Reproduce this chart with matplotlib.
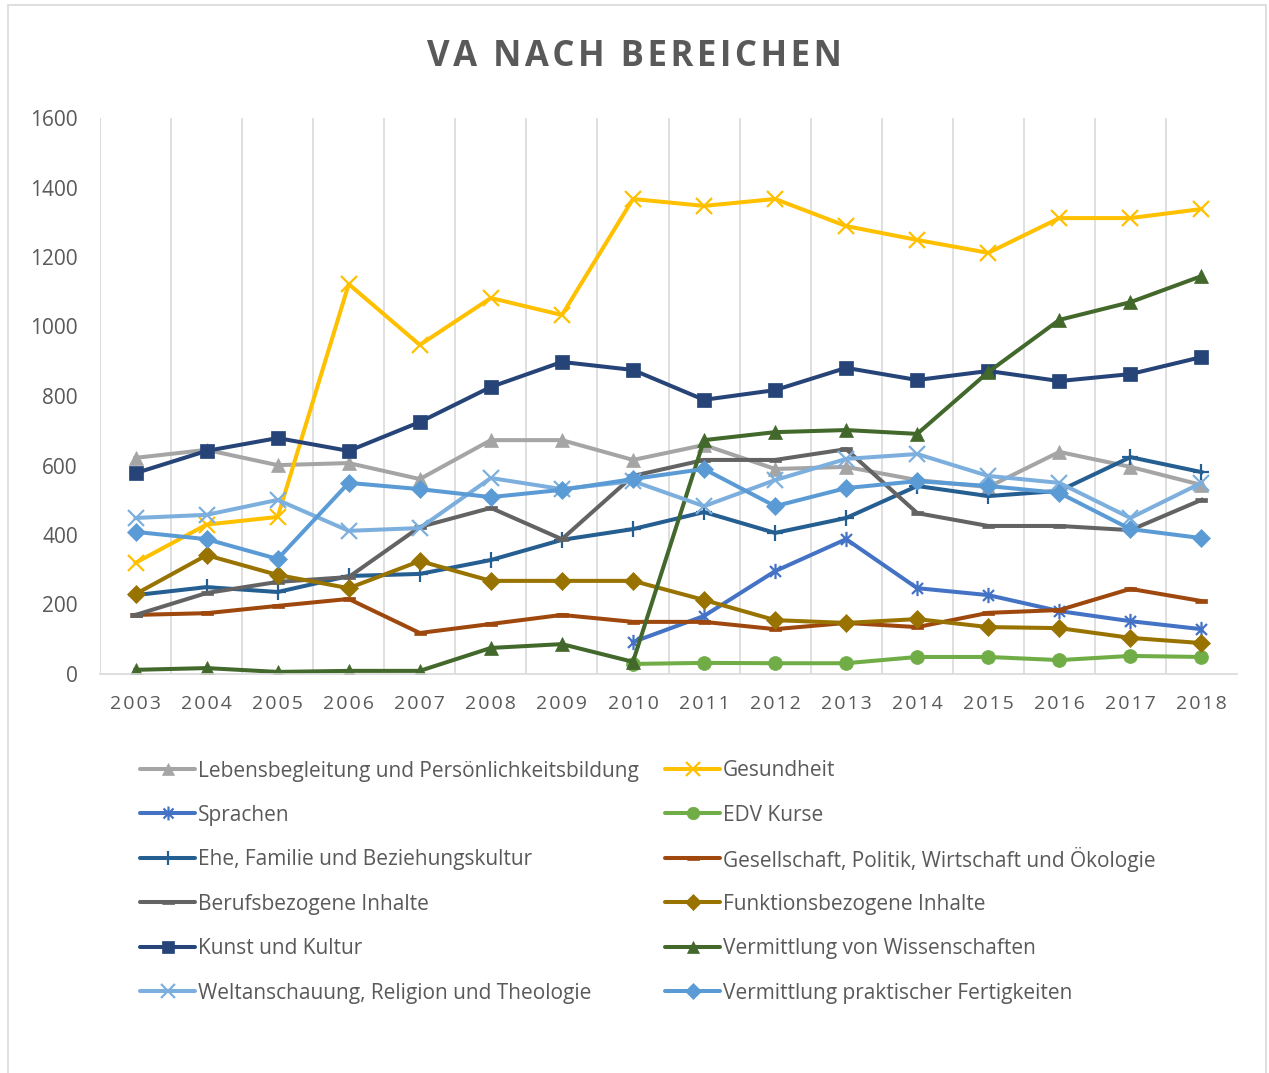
import matplotlib
matplotlib.use("Agg")
import matplotlib.pyplot as plt
from matplotlib.patches import Rectangle
from matplotlib.path import Path

plt.rcParams['font.family'] = ['Open Sans', 'DejaVu Sans']

years = list(range(2003, 2019))
years_edv = list(range(2010, 2019))

lebensbegleitung = [622, 645, 601, 607, 561, 673, 673, 616, 659, 590, 596, 558, 538, 639, 596, 544]
gesundheit = [320, 430, 452, 1122, 947, 1082, 1033, 1367, 1347, 1367, 1289, 1249, 1212, 1312, 1312, 1338]
sprachen = [92, 167, 296, 388, 247, 227, 181, 152, 129]
edv_kurse = [29, 32, 31, 31, 49, 49, 40, 52, 49]
ehe_familie = [227, 250, 236, 282, 288, 328, 386, 417, 466, 406, 449, 541, 512, 527, 624, 581]
gesellschaft = [170, 175, 196, 216, 118, 144, 170, 150, 150, 129, 147, 135, 176, 184, 245, 210]
berufsbezogen = [170, 233, 265, 279, 423, 478, 388, 570, 616, 616, 647, 463, 426, 426, 414, 501]
funktionsbezogen = [230, 342, 285, 247, 325, 268, 268, 268, 213, 155, 147, 158, 135, 132, 104, 89]
kunst_kultur = [578, 642, 679, 642, 725, 826, 898, 875, 789, 817, 881, 846, 872, 843, 863, 912]
wissenschaften = [12, 17, 6, 9, 9, 75, 86, 35, 673, 696, 702, 691, 869, 1019, 1070, 1145]
weltanschauung = [449, 458, 501, 412, 420, 564, 532, 555, 483, 558, 619, 633, 570, 550, 449, 550]
praktisch = [409, 388, 331, 550, 532, 509, 530, 561, 590, 483, 535, 555, 541, 521, 417, 391]

# Excel style markers that matplotlib lacks
star = Path([(0, -1), (0, 1), (-0.72, -0.72), (0.72, 0.72), (-0.72, 0.72), (0.72, -0.72)],
            [Path.MOVETO, Path.LINETO, Path.MOVETO, Path.LINETO, Path.MOVETO, Path.LINETO])
dash = [(-1, -0.35), (1, -0.35), (1, 0.35), (-1, 0.35)]

series = [
    ("Lebensbegleitung und Persönlichkeitsbildung", years, lebensbegleitung, "#A5A5A5", "^", 10),
    ("Gesundheit", years, gesundheit, "#FFC000", "x", 11),
    ("Sprachen", years_edv, sprachen, "#4472C4", star, 11),
    ("EDV Kurse", years_edv, edv_kurse, "#70AD47", "o", 10),
    ("Ehe, Familie und Beziehungskultur", years, ehe_familie, "#255E91", "+", 11),
    ("Gesellschaft, Politik, Wirtschaft und Ökologie", years, gesellschaft, "#9E480E", dash, 9),
    ("Berufsbezogene Inhalte", years, berufsbezogen, "#636363", dash, 9),
    ("Funktionsbezogene Inhalte", years, funktionsbezogen, "#997300", "D", 9),
    ("Kunst und Kultur", years, kunst_kultur, "#264478", "s", 10),
    ("Vermittlung von Wissenschaften", years, wissenschaften, "#43682B", "^", 10),
    ("Weltanschauung, Religion und Theologie", years, weltanschauung, "#7CAFDD", "x", 11),
    ("Vermittlung praktischer Fertigkeiten", years, praktisch, "#5B9BD5", "D", 9),
]

W, H = 1269, 1073
fig = plt.figure(figsize=(W / 100, H / 100), dpi=100)
fig.patches.append(Rectangle((8 / W, -0.01), 1258 / W, 1.0 - 5 / H + 0.01,
                             transform=fig.transFigure, fill=False,
                             edgecolor="#D9D9D9", linewidth=1.2))

ax = fig.add_axes([100 / W, 1 - 674 / H, 1137 / W, 556 / H])


def is_open(marker):
    return marker is star or (isinstance(marker, str) and marker in ("x", "+"))


for name, xs, ys, color, marker, ms in series:
    ax.plot(xs, ys, color=color, linewidth=2.9, marker=marker, markersize=ms,
            markeredgewidth=1.6 if is_open(marker) else 0.5,
            markerfacecolor=color, markeredgecolor=color, solid_joinstyle="round")

ax.set_xlim(2002.5, 2018.5)
ax.set_ylim(0, 1600)
ax.set_yticks(range(0, 1601, 200))
ax.set_xticks(years)
ax.set_xticklabels(["\u200a".join(str(y)) for y in years])
ax.set_xticks([y + 0.5 for y in range(2002, 2018)], minor=True)
ax.grid(axis="x", which="minor", color="#D9D9D9", linewidth=1.2)
ax.set_axisbelow(True)
for side in ("top", "right", "left"):
    ax.spines[side].set_visible(False)
ax.spines["bottom"].set_color("#D9D9D9")
ax.spines["bottom"].set_linewidth(1.2)
ax.axvline(2002.5, color="#D9D9D9", linewidth=1.2, zorder=0)
ax.tick_params(axis="both", which="both", length=0, labelcolor="#595959")
ax.tick_params(axis="x", labelsize=14, pad=15)
ax.tick_params(axis="y", labelsize=15, pad=16)

fig.text(0.5, 1 - 57 / H, "\u200a".join("VA NACH BEREICHEN"), ha="center", va="center",
         fontsize=25, fontweight="bold", color="#595959")

# legend laid out by hand: two columns, filled row by row
lax = fig.add_axes([0, 0, 1, 1])
lax.set_xlim(0, W)
lax.set_ylim(H, 0)
lax.axis("off")
for i, (name, xs, ys, color, marker, ms) in enumerate(series):
    row, col = divmod(i, 2)
    x0 = 140 if col == 0 else 665
    y0 = 769 + row * 44.4
    lax.plot([x0, x0 + 55], [y0, y0], color=color, linewidth=2.9, solid_capstyle="round")
    lax.plot([x0 + 27.5], [y0], color=color, marker=marker, markersize=ms - 1,
             markeredgewidth=1.6 if is_open(marker) else 0.5,
             markerfacecolor=color, markeredgecolor=color)
    lax.text(x0 + 58, y0 + 2, name, ha="left", va="center", fontsize=15, color="#595959")

fig.savefig("out.png", dpi=100)
